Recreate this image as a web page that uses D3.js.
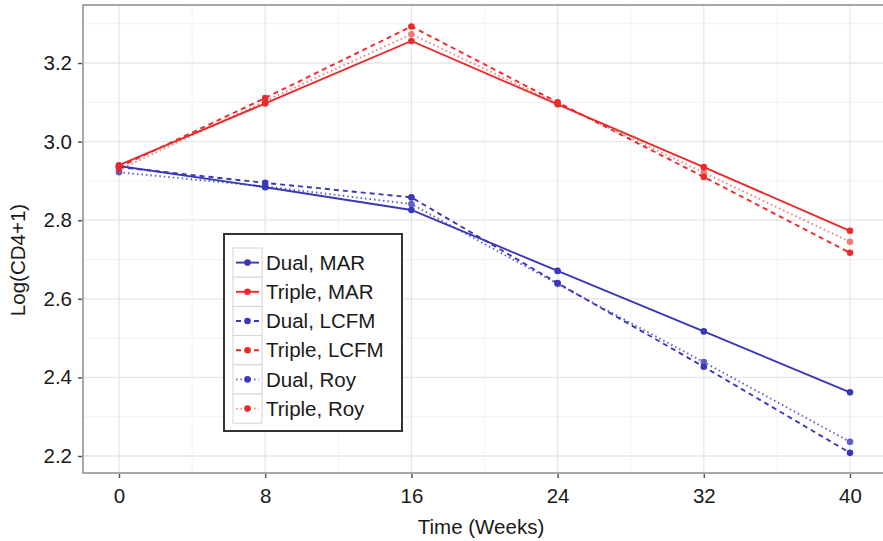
<!DOCTYPE html>
<html>
<head>
<meta charset="utf-8">
<script src="https://cdn.jsdelivr.net/npm/d3@7"></script>
<style>
  body { margin: 0; background: #fff; }
  svg { display: block; font-family: "Liberation Sans", Arial, sans-serif; }
</style>
</head>
<body>
<div id="chart"></div>
<script>
// data
var weeks = [0, 8, 16, 24, 32, 40];
var dualMAR = [2.938, 2.884, 2.826, 2.671, 2.517, 2.362];
var tripleMAR = [2.940, 3.097, 3.256, 3.095, 2.935, 2.773];
var dualLCFM = [2.935, 2.895, 2.858, 2.640, 2.427, 2.208];
var tripleLCFM = [2.935, 3.111, 3.293, 3.100, 2.910, 2.717];
var dualRoy = [2.922, 2.886, 2.841, 2.638, 2.439, 2.236];
var tripleRoy = [2.928, 3.103, 3.273, 3.097, 2.921, 2.745];
var yTicks = [2.2, 2.4, 2.6, 2.8, 3.0, 3.2];

var blue = "#3838b8";
var red = "#ec2a2a";

var series = [
  { name: "Dual, MAR", values: dualMAR, color: blue, dash: null, opacity: 1 },
  { name: "Triple, MAR", values: tripleMAR, color: red, dash: null, opacity: 1 },
  { name: "Dual, LCFM", values: dualLCFM, color: blue, dash: "5,4", opacity: 1 },
  { name: "Triple, LCFM", values: tripleLCFM, color: red, dash: "5,4", opacity: 1 },
  { name: "Dual, Roy", values: dualRoy, color: blue, dash: "1.5,3", opacity: 0.8 },
  { name: "Triple, Roy", values: tripleRoy, color: red, dash: "1.5,3", opacity: 0.6 }
];

var svgWidth = 883;
var svgHeight = 541;
var panel = { left: 83, top: 5, right: 887, bottom: 473 };
var fontSize = "20.5px";

var svg = d3.select("#chart")
  .append("svg")
  .attr("width", svgWidth)
  .attr("height", svgHeight);

var x = d3.scaleLinear().domain([0, 40]).range([119, 850]);
var y = d3.scaleLinear().domain([2.2, 3.2]).range([456, 63]);

// panel background and grid
svg.append("rect")
  .attr("x", panel.left).attr("y", panel.top)
  .attr("width", panel.right - panel.left).attr("height", panel.bottom - panel.top)
  .attr("fill", "#fff");

var minorX = [4, 12, 20, 28, 36];
var minorY = [2.3, 2.5, 2.7, 2.9, 3.1, 3.3];

var grid = svg.append("g");
grid.selectAll(".minx").data(minorX).enter().append("line")
  .attr("x1", d => x(d)).attr("x2", d => x(d))
  .attr("y1", panel.top).attr("y2", panel.bottom)
  .attr("stroke", "#f2f2f2").attr("stroke-width", 1);
grid.selectAll(".miny").data(minorY).enter().append("line")
  .attr("x1", panel.left).attr("x2", panel.right)
  .attr("y1", d => y(d)).attr("y2", d => y(d))
  .attr("stroke", "#f2f2f2").attr("stroke-width", 1);
grid.selectAll(".majx").data(weeks).enter().append("line")
  .attr("x1", d => x(d)).attr("x2", d => x(d))
  .attr("y1", panel.top).attr("y2", panel.bottom)
  .attr("stroke", "#e6e6e6").attr("stroke-width", 1.3);
grid.selectAll(".majy").data(yTicks).enter().append("line")
  .attr("x1", panel.left).attr("x2", panel.right)
  .attr("y1", d => y(d)).attr("y2", d => y(d))
  .attr("stroke", "#e6e6e6").attr("stroke-width", 1.3);

// lines and points
var line = d3.line()
  .x((d, i) => x(weeks[i]))
  .y(d => y(d));

var lines = svg.append("g");
series.forEach(function(s) {
  var g = lines.append("g").attr("opacity", s.opacity);
  g.append("path")
    .attr("d", line(s.values))
    .attr("fill", "none")
    .attr("stroke", s.color)
    .attr("stroke-width", 1.9)
    .attr("stroke-dasharray", s.dash);
  g.selectAll("circle").data(s.values).enter().append("circle")
    .attr("cx", (d, i) => x(weeks[i]))
    .attr("cy", d => y(d))
    .attr("r", 3.3)
    .attr("fill", s.color);
});

// panel border
svg.append("rect")
  .attr("x", panel.left).attr("y", panel.top)
  .attr("width", panel.right - panel.left).attr("height", panel.bottom - panel.top)
  .attr("fill", "none").attr("stroke", "#8c8c8c").attr("stroke-width", 1.5);

// axes
var xAxis = d3.axisBottom(x).tickValues(weeks).tickSize(4).tickPadding(8);
var yAxis = d3.axisLeft(y).tickValues(yTicks).tickSize(4).tickPadding(6)
  .tickFormat(d3.format(".1f"));

var xg = svg.append("g")
  .attr("transform", `translate(0, ${panel.bottom + 1})`)
  .call(xAxis);
var yg = svg.append("g")
  .attr("transform", `translate(${panel.left - 1}, 0)`)
  .call(yAxis);

[xg, yg].forEach(function(g) {
  g.select(".domain").remove();
  g.selectAll(".tick line").attr("stroke", "#555").attr("stroke-width", 1.5);
  g.selectAll(".tick text")
    .attr("fill", "#1a1a1a")
    .style("font-size", fontSize)
    .style("font-family", "Liberation Sans, Arial, sans-serif");
});
xg.selectAll(".tick text").attr("dy", "0.85em");

svg.append("text")
  .attr("x", 481).attr("y", 534)
  .attr("text-anchor", "middle")
  .attr("font-size", fontSize)
  .attr("fill", "#1a1a1a")
  .text("Time (Weeks)");

svg.append("text")
  .attr("transform", "translate(25, 260) rotate(-90)")
  .attr("text-anchor", "middle")
  .attr("font-size", fontSize)
  .attr("fill", "#1a1a1a")
  .text("Log(CD4+1)");

// legend
var legend = svg.append("g").attr("transform", "translate(224, 234)");
legend.append("rect")
  .attr("width", 178).attr("height", 197)
  .attr("fill", "#fff")
  .attr("stroke", "#333").attr("stroke-width", 2);

var rowH = 29.2;
var rows = legend.selectAll(".row").data(series).enter().append("g")
  .attr("transform", (d, i) => `translate(9, ${14 + i * rowH})`);

rows.append("rect")
  .attr("width", 29).attr("height", rowH)
  .attr("fill", "#fff")
  .attr("stroke", "#d4d4d4").attr("stroke-width", 1);
rows.append("line")
  .attr("x1", 3).attr("x2", 26)
  .attr("y1", rowH / 2).attr("y2", rowH / 2)
  .attr("stroke", d => d.color)
  .attr("stroke-width", 1.9)
  .attr("stroke-dasharray", d => d.dash)
  .attr("opacity", d => d.opacity);
rows.append("circle")
  .attr("cx", 14.5).attr("cy", rowH / 2).attr("r", 3.3)
  .attr("fill", d => d.color);
rows.append("text")
  .attr("x", 33).attr("y", rowH / 2)
  .attr("dy", "0.35em")
  .attr("font-size", fontSize)
  .attr("fill", "#1a1a1a")
  .text(d => d.name);
</script>
</body>
</html>
